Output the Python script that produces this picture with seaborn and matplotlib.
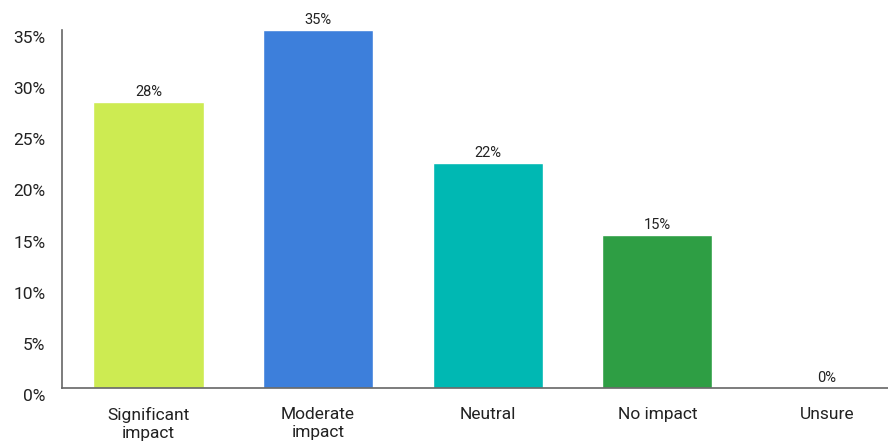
import matplotlib
matplotlib.use("Agg")
import matplotlib.pyplot as plt
import matplotlib.transforms as mtransforms
import seaborn as sns
import pandas as pd

# datos del grafico
categorias = ["Significant\nimpact", "Moderate\nimpact", "Neutral", "No impact", "Unsure"]
porcentajes = [28, 35, 22, 15, 0]
colores = ["#CDEB52", "#3D7FDB", "#00B8B3", "#2E9E44", "#2E9E44"]

sns.set_style("white")
plt.rcParams["font.family"] = ["Roboto", "DejaVu Sans"]

df = pd.DataFrame({"cat": categorias, "pct": porcentajes})

fig = plt.figure(figsize=(8.88, 4.43), dpi=100)
ax = fig.add_axes([62 / 888, 55 / 443, 1 - 62 / 888, 358 / 443])

sns.barplot(data=df, x="cat", y="pct", hue="cat", palette=colores, legend=False,
            width=0.65, saturation=1, ax=ax)

for cont, v in zip(ax.containers, porcentajes):
    ax.bar_label(cont, labels=[f"{v}%"], padding=2, fontsize=10.5, color="#222222")

ax.set_ylim(0, 35)
ax.set_xlim(-0.51, 4.36)
ax.set_yticks(range(0, 36, 5))
ax.set_yticklabels([f"{t}%" for t in range(0, 36, 5)])
ax.set_xlabel("")
ax.set_ylabel("")

ax.tick_params(axis="y", labelsize=12.5, colors="#222222", length=0, pad=12)
ax.tick_params(axis="x", labelsize=12.5, colors="#222222", length=0, pad=14)

# etiquetas del eje y un poco desplazadas hacia abajo
offset = mtransforms.ScaledTranslation(0, -7 / 100, fig.dpi_scale_trans)
for lbl in ax.get_yticklabels():
    lbl.set_transform(lbl.get_transform() + offset)

for s in ["top", "right"]:
    ax.spines[s].set_visible(False)
for s in ["left", "bottom"]:
    ax.spines[s].set_color("#666666")
    ax.spines[s].set_linewidth(1.2)

fig.savefig("out.png", dpi=100)
